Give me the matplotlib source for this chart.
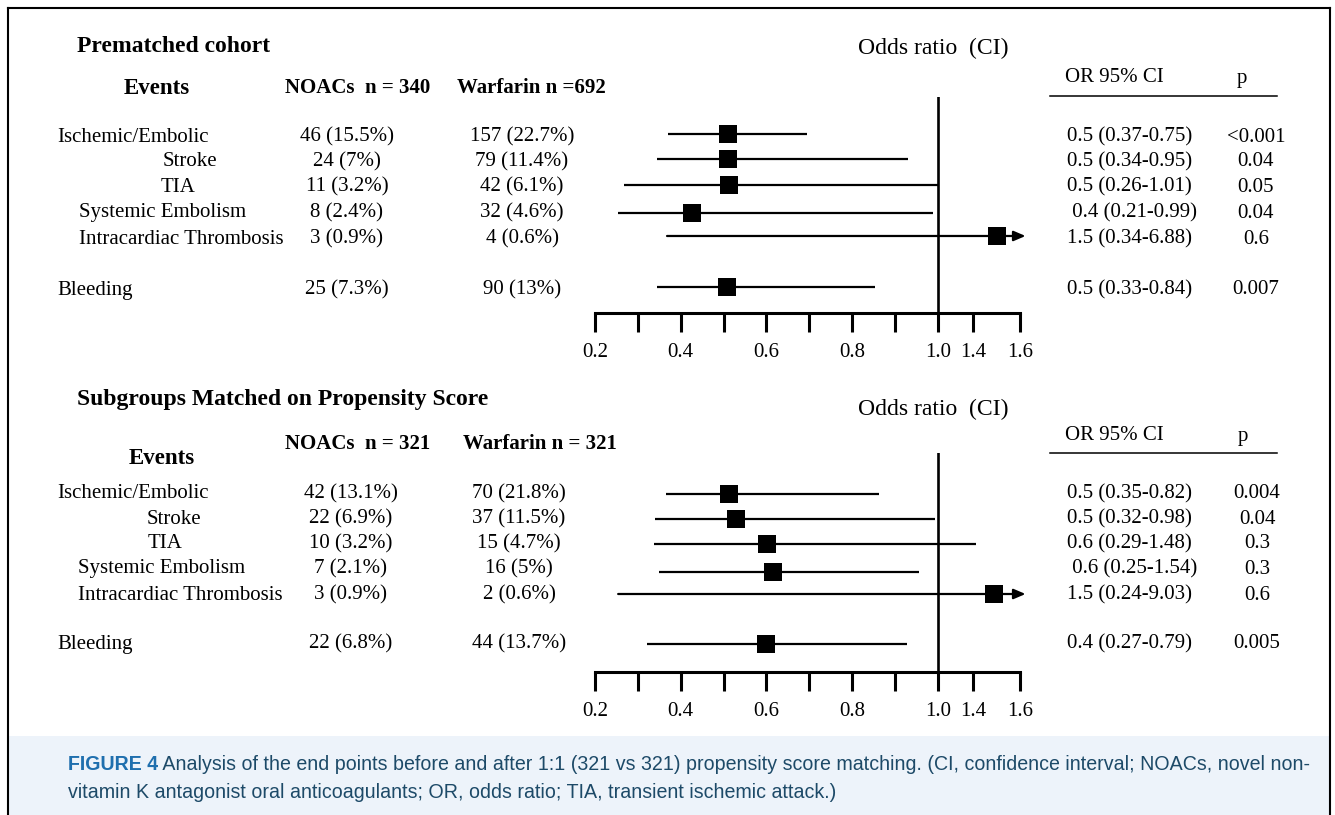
import numpy as np
import matplotlib
matplotlib.use("Agg")
import matplotlib.pyplot as plt

W, H = 1335, 815
DPI = 100

# ---- data ----
events = ["Ischemic/Embolic", "Stroke", "TIA", "Systemic Embolism",
          "Intracardiac Thrombosis", "Bleeding"]

# prematched cohort
pre_noac = ["46 (15.5%)", "24 (7%)", "11 (3.2%)", "8 (2.4%)", "3 (0.9%)", "25 (7.3%)"]
pre_warf = ["157 (22.7%)", "79 (11.4%)", "42 (6.1%)", "32 (4.6%)", "4 (0.6%)", "90 (13%)"]
pre_or_text = ["0.5 (0.37-0.75)", "0.5 (0.34-0.95)", "0.5 (0.26-1.01)",
               " 0.4 (0.21-0.99)", "1.5 (0.34-6.88)", "0.5 (0.33-0.84)"]
pre_p = ["<0.001", "0.04", "0.05", "0.04", "0.6", "0.007"]
# odds ratios / CI as drawn in the forest plot
pre_or = [0.51, 0.51, 0.513, 0.426, 1.5, 0.508]
pre_lo = [0.37, 0.345, 0.268, 0.254, 0.368, 0.345]
pre_hi = [0.694, 0.93, 1.009, 0.988, 6.88, 0.853]

# propensity matched subgroups
mat_noac = ["42 (13.1%)", "22 (6.9%)", "10 (3.2%)", "7 (2.1%)", "3 (0.9%)", "22 (6.8%)"]
mat_warf = ["70 (21.8%)", "37 (11.5%)", "15 (4.7%)", "16 (5%)", "2 (0.6%)", "44 (13.7%)"]
mat_or_text = ["0.5 (0.35-0.82)", "0.5 (0.32-0.98)", "0.6 (0.29-1.48)",
               " 0.6 (0.25-1.54)", "1.5 (0.24-9.03)", "0.4 (0.27-0.79)"]
mat_p = ["0.004", "0.04", "0.3", "0.3", "0.6", "0.005"]
mat_or = [0.513, 0.529, 0.601, 0.615, 1.49, 0.599]
mat_lo = [0.366, 0.340, 0.338, 0.349, 0.254, 0.321]
mat_hi = [0.862, 0.993, 1.41, 0.956, 9.03, 0.928]

tick_vals = [0.2, 0.3, 0.4, 0.5, 0.6, 0.7, 0.8, 0.9, 1.0, 1.4, 1.6]
tick_labels = ["0.2", "", "0.4", "", "0.6", "", "0.8", "", "1.0", "1.4", "1.6"]

caption_head = "FIGURE 4"
caption_1 = (" Analysis of the end points before and after 1:1 (321 vs 321) propensity score "
             "matching. (CI, confidence interval; NOACs, novel non-")
caption_2 = "vitamin K antagonist oral anticoagulants; OR, odds ratio; TIA, transient ischemic attack.)"

# ---- layout ----
row_pos = [0, 1, 2, 3.1, 4, 6]
X_MAX = 1.645
scale_v = [0.2, 1.0, 1.4, 1.6, 2.0]
scale_u = [0, 8, 8.82, 9.92, 11.0]
DY = 3  # text nudge (px)

plt.rcParams["font.family"] = "Liberation Serif"

fig = plt.figure(figsize=(W / DPI, H / DPI), dpi=DPI)
bg = fig.add_axes([0, 0, 1, 1])
bg.set_xlim(0, W)
bg.set_ylim(H, 0)
bg.axis("off")

# frame + caption box
bg.add_patch(plt.Rectangle((9, 736), 1320, 80, color="#edf3fa", lw=0))
bg.plot([8, 8], [8, 815], color="black", lw=1.5)
bg.plot([8, 1330], [8, 8], color="black", lw=1.5)
bg.plot([1330, 1330], [8, 815], color="black", lw=1.5)


def forest(top, bottom, y_top, y_bottom, ors, los, his):
    x0 = 595
    x1 = 595 + np.interp(X_MAX, scale_v, scale_u) * 42.875
    ax = fig.add_axes([x0 / W, 1 - bottom / H, (x1 - x0) / W, (bottom - top) / H])
    ax.set_xscale("function", functions=(lambda v: np.interp(v, scale_v, scale_u),
                                         lambda u: np.interp(u, scale_u, scale_v)))
    ax.set_xlim(0.2, X_MAX)
    ax.set_ylim(y_bottom, y_top)
    ax.patch.set_alpha(0)
    for s in ["top", "left", "right"]:
        ax.spines[s].set_visible(False)
    ax.spines["bottom"].set_linewidth(2.2)
    ax.spines["bottom"].set_bounds(0.2, 1.6)
    ax.set_yticks([])
    ax.set_xticks(tick_vals)
    ax.set_xticklabels(tick_labels)
    ax.xaxis.set_minor_locator(plt.NullLocator())
    ax.tick_params(axis="x", direction="out", length=13.5, width=2.2, pad=8,
                   labelsize=15)
    ax.axvline(1.0, color="black", lw=1.9)
    for i in range(len(ors)):
        y = row_pos[i]
        if his[i] > X_MAX:
            ax.annotate("", xy=(X_MAX, y), xytext=(los[i], y),
                        arrowprops=dict(arrowstyle="-|>,head_length=0.7,head_width=0.3",
                                        color="black", lw=1.6, shrinkA=0, shrinkB=0))
        else:
            ax.plot([los[i], his[i]], [y, y], color="black", lw=1.6,
                    solid_capstyle="butt")
        ax.plot(ors[i], y, marker="s", ms=13, color="black", mec="black", mew=0)
    return ax


forest(97, 313, -1.45, 7.02, pre_or, pre_lo, pre_hi)
forest(453, 672, -1.64, 7.12, mat_or, mat_lo, mat_hi)


def txt(x, y, s, **kw):
    kw.setdefault("fontsize", 15)
    kw.setdefault("va", "center")
    return bg.text(x, y + DY, s, **kw)


def table(title_y, odds_y, events_y, head_y, or_head_y, line_y, rows_y,
          label_x, noac_x, warf_x, p_x, noac_head, warf_head, warf_head_x,
          title, noac, warf, or_text, pvals, events_x):
    txt(77, title_y, title, fontsize=17, fontweight="bold")
    txt(858, odds_y, "Odds ratio  (CI)", fontsize=17)
    txt(events_x, events_y, "Events", fontsize=16.5, fontweight="bold", ha="center")
    txt(285, head_y, noac_head, fontweight="bold")
    txt(warf_head_x, head_y, warf_head, fontweight="bold")
    txt(1065, or_head_y, "OR 95% CI")
    txt(p_x - 14, or_head_y + 2, "p", ha="center")
    bg.plot([1050, 1277], [line_y, line_y], color="black", lw=1.1)
    for i, y in enumerate(rows_y):
        txt(label_x[i], y, events[i])
        txt(noac_x, y, noac[i], ha="center")
        txt(warf_x, y, warf[i], ha="center")
        txt(1067, y, or_text[i])
        txt(p_x, y, pvals[i], ha="center")


table(43, 45, 85, 85, 74, 96, [134, 159, 184, 210, 236, 287],
      [57, 163, 161, 79, 79, 57], 347, 522, 1256,
      "NOACs  n = 340", "Warfarin n =692", 457,
      "Prematched cohort", pre_noac, pre_warf, pre_or_text, pre_p, 157)
table(397, 406, 456, 441, 432, 453, [491, 516, 541, 566, 592, 641],
      [57, 147, 148, 78, 78, 57], 351, 519, 1257,
      "NOACs  n = 321", "Warfarin n = 321", 463,
      "Subgroups Matched on Propensity Score", mat_noac, mat_warf, mat_or_text, mat_p, 162)

# caption
cap_font = ["Liberation Sans Narrow", "Liberation Sans", "DejaVu Sans"]
fs = 13
renderer = fig.canvas.get_renderer()
t_head = bg.text(68, 764, caption_head, fontsize=fs, fontweight="bold", color="#1f6fae",
                 va="center", family=cap_font)
t1 = bg.text(0, 764, caption_1, fontsize=fs, color="#1d4a68", va="center", family=cap_font)
w_head = t_head.get_window_extent(renderer).width
w1 = t1.get_window_extent(renderer).width
k = (1305 - 68) / (w_head + w1)
fs = fs * k
t_head.set_fontsize(fs)
t1.set_fontsize(fs)
w_head = t_head.get_window_extent(renderer).width
t1.set_x(68 + w_head)
bg.text(68, 792, caption_2, fontsize=fs, color="#1d4a68", va="center", family=cap_font)

fig.savefig("out.png", dpi=DPI)
